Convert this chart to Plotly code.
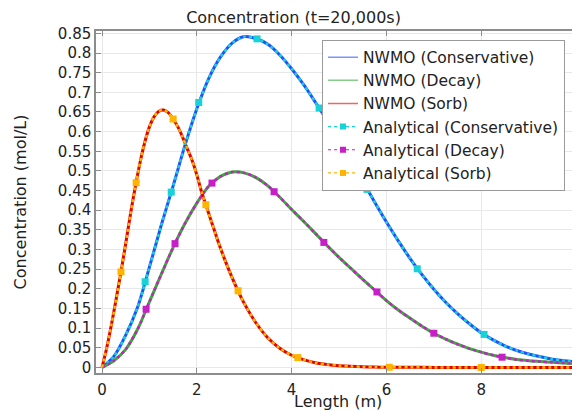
import plotly.graph_objects as go

# Positions along the column (m)
x_cons = [0, 0.25, 0.5, 0.75, 1.0, 1.25, 1.5, 1.75, 2.0, 2.25, 2.5, 2.75, 3.0, 3.25, 3.5, 3.75,
          4.0, 4.25, 4.5, 4.75, 5.0, 5.25, 5.5, 5.75, 6.0, 6.25, 6.5, 6.75, 7.0, 7.25, 7.5, 7.75,
          8.0, 8.25, 8.5, 8.75, 9.0, 9.25, 9.5, 9.75, 10.0]
x_decay = x_cons
x_sorb = [0, 0.1, 0.2, 0.3, 0.4, 0.5, 0.6, 0.7, 0.8, 0.9, 1.0, 1.1, 1.2, 1.3, 1.4, 1.5, 1.6, 1.7,
          1.8, 1.9, 2.0, 2.1, 2.2, 2.3, 2.4, 2.5, 2.6, 2.7, 2.8, 2.9, 3.0, 3.25, 3.5, 3.75, 4.0,
          4.25, 4.5, 4.75, 5.0, 5.25, 5.5, 5.75, 6.0, 6.25, 6.5, 7.0, 7.5, 8.0, 9.0, 10.0]

# Concentration profiles at t = 20,000 s (mol/L)
c_cons = [0, 0.028, 0.082, 0.153, 0.255, 0.362, 0.462, 0.565, 0.658, 0.735, 0.79, 0.826, 0.842,
          0.837, 0.822, 0.795, 0.76, 0.72, 0.675, 0.628, 0.578, 0.527, 0.474, 0.421, 0.37, 0.322,
          0.277, 0.236, 0.199, 0.166, 0.137, 0.111, 0.088, 0.07, 0.055, 0.043, 0.034, 0.027,
          0.021, 0.017, 0.014]
c_decay = [0, 0.017, 0.046, 0.097, 0.167, 0.237, 0.305, 0.366, 0.418, 0.461, 0.486, 0.497, 0.495,
           0.483, 0.462, 0.433, 0.402, 0.372, 0.341, 0.31, 0.28, 0.252, 0.224, 0.197, 0.17, 0.146,
           0.125, 0.105, 0.087, 0.072, 0.059, 0.048, 0.039, 0.031, 0.025, 0.02, 0.017, 0.015,
           0.013, 0.011, 0.01]
c_sorb = [0, 0.05, 0.11, 0.175, 0.243, 0.315, 0.39, 0.458, 0.52, 0.572, 0.612, 0.638, 0.652,
          0.655, 0.648, 0.632, 0.612, 0.586, 0.556, 0.527, 0.49, 0.447, 0.41, 0.374, 0.338,
          0.303, 0.271, 0.241, 0.213, 0.187, 0.163, 0.113, 0.075, 0.049, 0.031, 0.02, 0.012,
          0.0075, 0.0045, 0.0027, 0.0016, 0.0009, 0.0005, 0.0003, 0.0002, 0.0001, 0.0, 0.0,
          0.0, 0.0]

# Analytical solution sample points (markers)
mx_cons = [0.91, 1.46, 2.04, 3.27, 4.58, 5.59, 6.65, 8.06]
my_cons = [0.218, 0.446, 0.674, 0.836, 0.66, 0.453, 0.251, 0.084]
mx_decay = [0.93, 1.54, 2.32, 3.63, 4.68, 5.80, 7.0, 8.44]
my_decay = [0.148, 0.315, 0.469, 0.447, 0.318, 0.192, 0.087, 0.026]
mx_sorb = [0.40, 0.72, 1.50, 2.19, 2.87, 4.13, 6.06, 8.0]
my_sorb = [0.243, 0.47, 0.632, 0.414, 0.195, 0.025, 0.0005, 0.0]

FONT = "DejaVu Sans"
TXT = "#222222"
AXIS = "#8c8c8c"

series = [
    ("Conservative", x_cons, c_cons, mx_cons, my_cons, "#1f4fff", "#18d2da"),
    ("Decay", x_decay, c_decay, mx_decay, my_decay, "#3aa83a", "#c81ec8"),
    ("Sorb", x_sorb, c_sorb, mx_sorb, my_sorb, "#e00000", "#ffb400"),
]

fig = go.Figure()

# NWMO numerical results: solid lines (thin legend entry via a proxy trace)
for i, (name, xs, ys, _, _, col, _) in enumerate(series):
    fig.add_trace(go.Scatter(
        x=xs, y=ys, mode="lines", showlegend=False,
        line=dict(color=col, width=3, shape="spline", smoothing=0.8),
        legendgroup=f"nwmo{i}", hoverinfo="x+y",
    ))
    fig.add_trace(go.Scatter(
        x=[None], y=[None], mode="lines", name=f"NWMO ({name})",
        line=dict(color=col, width=1.5), opacity=0.6,
        legendgroup=f"nwmo{i}", legendrank=i + 1,
    ))

# Analytical solutions: dotted lines with square markers
for i, (name, xs, ys, mx, my, _, col) in enumerate(series):
    fig.add_trace(go.Scatter(
        x=xs, y=ys, mode="lines", showlegend=False,
        line=dict(color=col, width=2.5, dash="dot", shape="spline", smoothing=0.8),
        legendgroup=f"ana{i}", hoverinfo="skip",
    ))
    fig.add_trace(go.Scatter(
        x=mx, y=my, mode="markers", showlegend=False,
        marker=dict(symbol="square", size=7, color=col),
        legendgroup=f"ana{i}",
    ))
    fig.add_trace(go.Scatter(
        x=[None], y=[None], mode="lines+markers", name=f"Analytical ({name})",
        line=dict(color=col, width=1.2, dash="dot"),
        marker=dict(symbol="square", size=6, color=col),
        legendgroup=f"ana{i}", legendrank=i + 4,
    ))

fig.update_layout(
    width=572, height=411,
    margin=dict(l=96, r=0, t=31, b=38, autoexpand=False),
    paper_bgcolor="white", plot_bgcolor="white",
    font=dict(family=FONT, size=15, color=TXT),
    title=dict(text="Concentration (t=20,000s)", font=dict(size=16, color=TXT),
               x=0.415, xref="paper", xanchor="center",
               y=1 - 17 / 411, yref="container", yanchor="middle"),
    legend=dict(x=(322 - 96) / 476, y=0.975, xanchor="left", yanchor="top",
                bgcolor="white", bordercolor="#9a9a9a", borderwidth=1,
                tracegroupgap=0, font=dict(size=15.5, color=TXT)),
    showlegend=True,
    # x-axis title, set just below the tick labels
    annotations=[dict(text="Length (m)", xref="paper", yref="paper", x=0.508, y=0,
                      xanchor="center", yanchor="middle", yshift=-28, showarrow=False,
                      font=dict(size=16, color=TXT))],
)

fig.update_xaxes(
    range=[-0.127, 9.915], tickvals=[0, 2, 4, 6, 8], ticktext=["0", "2", "4", "6", "8"],
    showgrid=True, gridcolor="#e8e8e8", gridwidth=1, zeroline=False,
    showline=True, linecolor=AXIS, linewidth=1.5, mirror="ticks",
    ticks="inside", ticklen=5, tickcolor=AXIS, tickfont=dict(size=15),
    ticklabelstandoff=2, automargin=False,
)
fig.update_yaxes(
    range=[-0.0142, 0.856], dtick=0.05, tick0=0,
    showgrid=True, gridcolor="#e8e8e8", gridwidth=1, zeroline=False,
    showline=True, linecolor=AXIS, linewidth=1.5, mirror=False,
    ticks="inside", ticklen=5, tickcolor=AXIS, tickfont=dict(size=15),
    automargin=False,
    title=dict(text="Concentration (mol/L)", font=dict(size=16), standoff=27),
)

fig.write_html("out.html")
